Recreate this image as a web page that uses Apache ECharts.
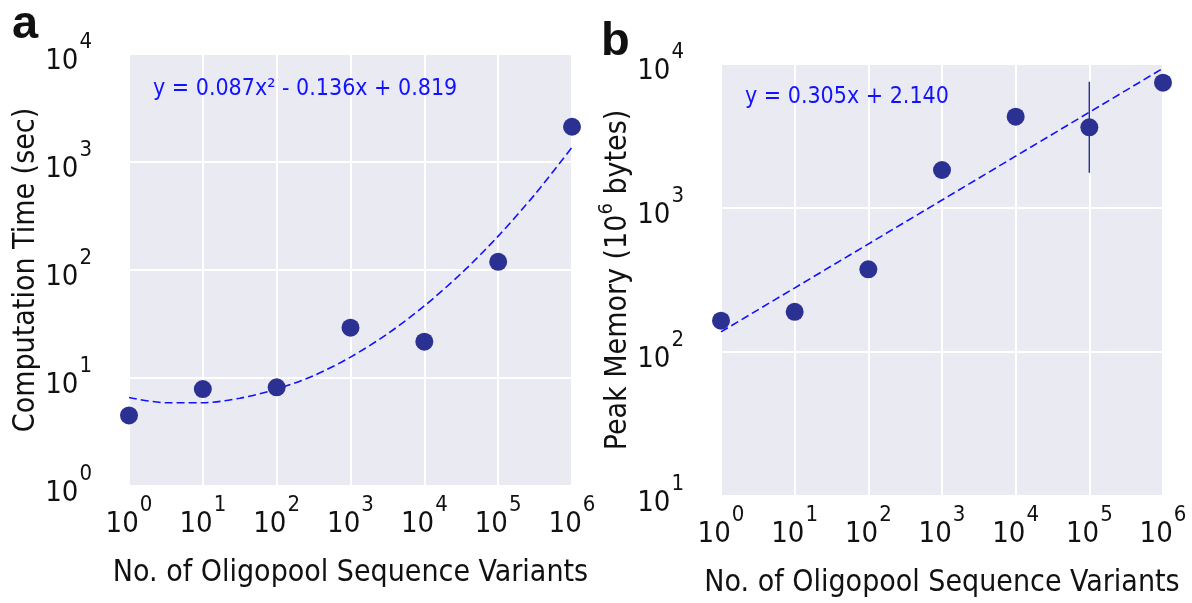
<!DOCTYPE html>
<html>
<head>
<meta charset="utf-8">
<script src="https://cdn.jsdelivr.net/npm/echarts@6/dist/echarts.min.js"></script>
<style>
html,body{margin:0;padding:0;background:#fff;}
#c{width:1192px;height:603px;}
</style>
</head>
<body>
<div id="c"></div>
<script>
// ---- Data ----
const variants = [1, 10, 100, 1000, 10000, 100000, 1000000];
const compTime = [4.5, 7.9, 8.2, 29.2, 21.7, 119, 2120];
const peakMemory = [165, 190, 375, 1836, 4305, 3632, 7413];
const memErrX = [100000, 100000];
const memErrY = [1759, 7530];
// fitted curve of panel a
const fitAX = [1, 3.16, 10, 31.6, 100, 316, 1000, 3162, 10000, 31623, 100000, 316228, 1000000];
const fitAY = [6.6, 5.9, 5.9, 6.5, 7.9, 10.5, 15.6, 25.6, 46.5, 93, 206, 504, 1365];
// fitted line of panel b
const fitBX = [1, 1000000];
const fitBY = [138, 9333];
const eqA = 'y = 0.087x\u00B2 - 0.136x + 0.819';
const eqB = 'y = 0.305x + 2.140';
const xTitle = 'No. of Oligopool Sequence Variants';
const yTitleA = 'Computation Time (sec)';

const FONT = '"Liberation Sans Narrow","DejaVu Sans Condensed","Roboto",sans-serif';
const DOT = '#2B3192';
const FIT = '#1212FF';
const zip = (a, b) => a.map((v, i) => [v, b[i]]);

const supFmt = v => {
  const e = Math.round(Math.log10(v));
  return '{b|10}{s|' + e + '}';
};
const richLbl = {
  b: {fontSize: 29, fontFamily: FONT, color: '#111', padding: [14, 0, 0, 0]},
  s: {fontSize: 22, fontFamily: FONT, color: '#111', padding: [0, 0, 24, 1]}
};

function xAxis(gi) {
  return {
    type: 'log', logBase: 10, gridIndex: gi, min: 1, max: 1000000,
    axisLine: {show: false}, axisTick: {show: false},
    splitLine: {show: true, lineStyle: {color: '#fff', width: 2}},
    axisLabel: {formatter: supFmt, rich: richLbl, margin: 8},
    name: xTitle, nameLocation: 'middle', nameGap: 72,
    nameTextStyle: {fontSize: 30, fontFamily: FONT, color: '#111'}
  };
}
function yAxis(gi, min, max, name, gap, rich) {
  return {
    type: 'log', logBase: 10, gridIndex: gi, min: min, max: max,
    axisLine: {show: false}, axisTick: {show: false},
    splitLine: {show: true, lineStyle: {color: '#fff', width: 2}},
    axisLabel: {formatter: supFmt, rich: richLbl, margin: 37},
    name: name, nameLocation: 'middle', nameGap: gap, nameRotate: 90,
    nameTextStyle: Object.assign({fontSize: 30, fontFamily: FONT, color: '#111'}, rich ? {rich: rich} : {})
  };
}

const chart = echarts.init(document.getElementById('c'), null, {renderer: 'canvas'});
chart.setOption({
  backgroundColor: '#fff',
  animation: false,
  grid: [
    {left: 129, top: 54, width: 443, height: 432, show: true, backgroundColor: '#EAEAF2', borderWidth: 0},
    {left: 721, top: 64, width: 442, height: 432, show: true, backgroundColor: '#EAEAF2', borderWidth: 0}
  ],
  xAxis: [xAxis(0), xAxis(1)],
  yAxis: [
    yAxis(0, 1, 10000, yTitleA, 86),
    yAxis(1, 10, 10000, '{n|Peak Memory (10}{s|6}{n| bytes)}', 71, {
      n: {fontSize: 30, fontFamily: FONT, color: '#111'},
      s: {fontSize: 20, fontFamily: FONT, color: '#111', padding: [0, 0, 24, 0]}
    })
  ],
  series: [
    {type: 'line', xAxisIndex: 0, yAxisIndex: 0, data: zip(fitAX, fitAY), smooth: 0.3, symbol: 'none',
     lineStyle: {color: FIT, width: 1.6, type: [8, 4]}, z: 2},
    {type: 'scatter', xAxisIndex: 0, yAxisIndex: 0, data: zip(variants, compTime), symbolSize: 18,
     itemStyle: {color: DOT, opacity: 1}, z: 3},
    {type: 'line', xAxisIndex: 1, yAxisIndex: 1, data: zip(fitBX, fitBY), symbol: 'none',
     lineStyle: {color: FIT, width: 1.6, type: [8, 4]}, z: 2},
    {type: 'line', xAxisIndex: 1, yAxisIndex: 1, data: zip(memErrX, memErrY), symbol: 'none',
     lineStyle: {color: DOT, width: 1.5}, z: 2},
    {type: 'scatter', xAxisIndex: 1, yAxisIndex: 1, data: zip(variants, peakMemory), symbolSize: 18,
     itemStyle: {color: DOT, opacity: 1}, z: 3}
  ],
  graphic: [
    {type: 'text', z: 50, left: 12, top: 2, style: {text: 'a', font: 'bold 47px "Liberation Sans", sans-serif', fill: '#111'}},
    {type: 'text', z: 50, left: 601, top: 19, style: {text: 'b', font: 'bold 47px "Liberation Sans", sans-serif', fill: '#111'}},
    {type: 'text', z: 50, left: 153, top: 78, style: {text: eqA, font: '23px ' + FONT, fill: FIT}},
    {type: 'text', z: 50, left: 745, top: 86, style: {text: eqB, font: '23px ' + FONT, fill: FIT}}
  ]
});
</script>
</body>
</html>
